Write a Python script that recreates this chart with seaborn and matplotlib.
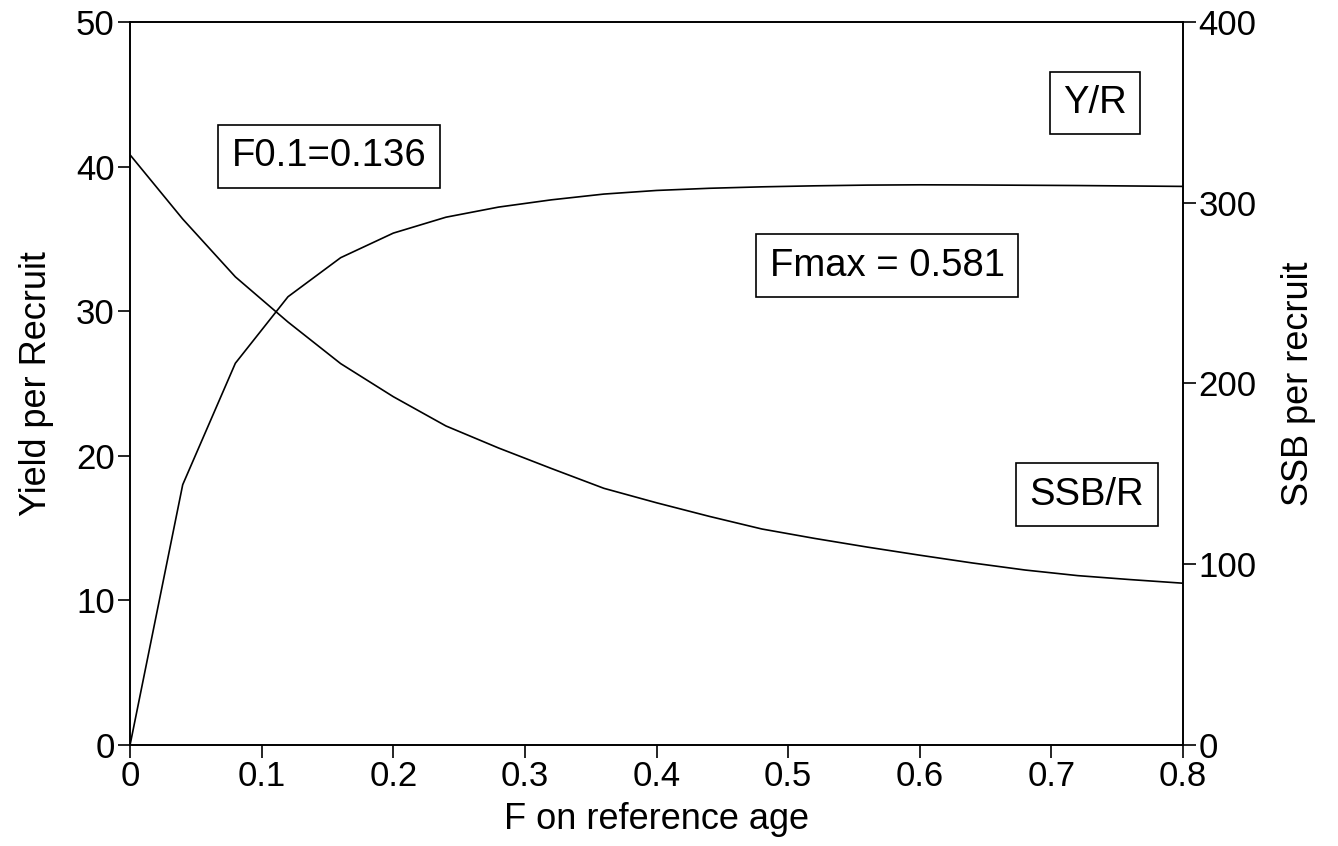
import matplotlib
matplotlib.use("Agg")
import matplotlib.pyplot as plt
import seaborn as sns
import pandas as pd

# Fishing mortality on the reference age
f_values = [0.00, 0.04, 0.08, 0.12, 0.16, 0.20, 0.24, 0.28, 0.32, 0.36,
            0.40, 0.44, 0.48, 0.52, 0.56, 0.60, 0.64, 0.68, 0.72, 0.76, 0.80]
# Yield per recruit (left axis)
yield_per_recruit = [0.0, 18.0, 26.4, 31.0, 33.7, 35.4, 36.5, 37.2, 37.7, 38.1,
                     38.35, 38.5, 38.6, 38.67, 38.72, 38.74, 38.73, 38.71, 38.69, 38.66, 38.63]
# Spawning stock biomass per recruit (right axis)
ssb_per_recruit = [326.5, 291.0, 259.0, 234.0, 211.0, 192.7, 176.5, 164.3, 153.0, 142.0,
                   134.0, 126.5, 119.5, 114.3, 109.5, 105.0, 100.7, 96.8, 93.7, 91.5, 89.5]

x_ticks = [0, 0.1, 0.2, 0.3, 0.4, 0.5, 0.6, 0.7, 0.8]
x_tick_labels = ["0", "0.1", "0.2", "0.3", "0.4", "0.5", "0.6", "0.7", "0.8"]
left_ticks = [0, 10, 20, 30, 40, 50]
right_ticks = [0, 100, 200, 300, 400]

f01_text = "F0.1=0.136"
fmax_text = "Fmax = 0.581"

df = pd.DataFrame({"F": f_values, "YR": yield_per_recruit, "SSBR": ssb_per_recruit})

sns.set_style("ticks")
plt.rcParams["font.family"] = ["Liberation Sans", "DejaVu Sans"]
plt.rcParams["text.color"] = "black"
plt.rcParams["axes.labelcolor"] = "black"
plt.rcParams["axes.linewidth"] = 1.2
plt.rcParams["xtick.major.width"] = 1.2
plt.rcParams["ytick.major.width"] = 1.2
plt.rcParams["xtick.major.size"] = 9
plt.rcParams["ytick.major.size"] = 9

fig = plt.figure(figsize=(13.38, 8.46), dpi=100)
ax = fig.add_axes([0.0972, 0.1194, 0.7870, 0.8546])
ax2 = ax.twinx()

sns.lineplot(data=df, x="F", y="YR", ax=ax, color="black", linewidth=1.2)
sns.lineplot(data=df, x="F", y="SSBR", ax=ax2, color="black", linewidth=1.2)

ax.set_xlim(0, 0.8)
ax.set_ylim(0, 50)
ax2.set_ylim(0, 400)
ax.set_xticks(x_ticks)
ax.set_xticklabels(x_tick_labels)
ax.set_yticks(left_ticks)
ax2.set_yticks(right_ticks)

tick_size = 25
ax.tick_params(axis="both", labelsize=tick_size, direction="out", colors="black", pad=2)
ax2.tick_params(axis="y", labelsize=tick_size, direction="out", colors="black", pad=2)

label_size = 26
ax.set_xlabel("F on reference age", fontsize=label_size, labelpad=6, color="black")
ax.set_ylabel("Yield per Recruit", fontsize=label_size, labelpad=16, color="black")
ax2.set_ylabel("SSB per recruit", fontsize=label_size, labelpad=18, color="black")

for spine in list(ax.spines.values()) + list(ax2.spines.values()):
    spine.set_color("black")

box = dict(boxstyle="square,pad=0.35", facecolor="white", edgecolor="black", linewidth=1.2)
box_size = 27.5
ax.text(0.189, 0.814, f01_text, transform=ax.transAxes, fontsize=box_size,
        ha="center", va="center", bbox=box, color="black")
ax.text(0.719, 0.663, fmax_text, transform=ax.transAxes, fontsize=box_size,
        ha="center", va="center", bbox=box, color="black")
ax.text(0.9166, 0.888, "Y/R", transform=ax.transAxes, fontsize=box_size,
        ha="center", va="center", bbox=box, color="black")
ax.text(0.9088, 0.346, "SSB/R", transform=ax.transAxes, fontsize=box_size,
        ha="center", va="center", bbox=box, color="black")

fig.savefig("out.png", dpi=100)
